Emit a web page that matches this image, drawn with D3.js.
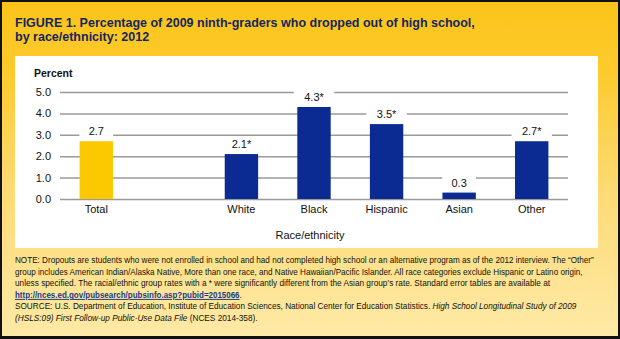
<!DOCTYPE html>
<html><head><meta charset="utf-8">
<script src="https://cdn.jsdelivr.net/npm/d3@7"></script>
<style>html,body{margin:0;padding:0;background:#fff;}svg{display:block;}</style>
</head><body>
<svg id="c" width="620" height="339"></svg>
<script>
const categories = ["Total", "White", "Black", "Hispanic", "Asian", "Other"];
const values = [2.7, 2.1, 4.3, 3.5, 0.3, 2.7];
const valueLabels = ["2.7", "2.1*", "4.3*", "3.5*", "0.3", "2.7*"];
const tickValues = [0, 1, 2, 3, 4, 5];
const titleLines = ["FIGURE 1. Percentage of 2009 ninth-graders who dropped out of high school,", "by race/ethnicity: 2012"];
const yAxisTitle = "Percent";
const xAxisTitle = "Race/ethnicity";

const svg = d3.select("#c");
const defs = svg.append("defs");
const g1 = defs.append("linearGradient").attr("id","bg").attr("x1",0).attr("y1",0).attr("x2",0).attr("y2",1);
g1.append("stop").attr("offset","0%").attr("stop-color","#fcc41a");
g1.append("stop").attr("offset","20%").attr("stop-color","#fcca2c");
g1.append("stop").attr("offset","55%").attr("stop-color","#fdda72");
g1.append("stop").attr("offset","100%").attr("stop-color","#fee9a6");

svg.append("rect").attr("x",0).attr("y",0).attr("width",620).attr("height",339).attr("fill","#111");
svg.append("rect").attr("x",2).attr("y",2).attr("width",616).attr("height",334).attr("fill","url(#bg)");
svg.append("rect").attr("x",15).attr("y",56).attr("width",583).attr("height",192).attr("fill","#fff");

const ff = "Liberation Sans, Arial, sans-serif";
// horizontally squeeze a text so it spans `target` px, keeping its height
function squeeze(sel, x0, y0, target, size){
  sel.attr("font-size", size).attr("x",0).attr("y",0);
  const nat = sel.node().getComputedTextLength();
  const k = Math.min(1, target/nat);
  sel.attr("transform", `translate(${x0},${y0}) scale(${k},1)`);
}

// title
svg.selectAll("text.title").data(titleLines).join("text")
  .attr("class","title")
  .attr("font-family",ff)
  .attr("font-weight","bold").attr("fill","#14265e")
  .text(d=>d)
  .each(function(d,i){ squeeze(d3.select(this), 15, 27+i*13.5, i===0?475:152, 12.5); });

const x = d3.scaleBand().domain([categories[0], "__gap__", ...categories.slice(1)])
  .range([60,568]).paddingInner(0.54).paddingOuter(0.27);
const y = d3.scaleLinear().domain([0,5]).range([199,92]);

// gridlines
const grid = svg.append("g")
  .attr("transform","translate(60,0)")
  .call(d3.axisLeft(y).tickValues(tickValues).tickSize(-(568-60)).tickFormat(d3.format(".1f")).tickPadding(9));
grid.select(".domain").remove();
grid.selectAll(".tick line").attr("stroke","#9a9a9a").attr("stroke-width",1.5);
grid.selectAll(".tick text").attr("font-family",ff).attr("font-size",11).attr("fill","#111");

svg.append("text").attr("x",34).attr("y",77).attr("font-family",ff)
  .attr("font-weight","bold").attr("font-size",10.5).attr("fill","#111").text(yAxisTitle);

const data = categories.map((c,i)=>({c, v:values[i], l:valueLabels[i]}));

svg.selectAll("rect.bar").data(data).join("rect").attr("class","bar")
  .attr("x",d=>x(d.c)).attr("width",x.bandwidth())
  .attr("y",d=>y(d.v)).attr("height",d=>y(0)-y(d.v))
  .attr("fill",(d,i)=>i===0?"#fcc800":"#0b2a92");

// value labels with white backgrounds
const lab = svg.selectAll("g.lab").data(data).join("g").attr("class","lab")
  .attr("transform",d=>`translate(${x(d.c)+x.bandwidth()/2},${y(d.v)-6})`);
lab.append("rect").attr("x",d=>-(d.l.length*3.3+7)).attr("y",-11).attr("width",d=>d.l.length*6.6+14).attr("height",14).attr("fill","#fff");
lab.append("text").attr("text-anchor","middle").attr("font-family",ff)
  .attr("font-size",11).attr("fill","#111").text(d=>d.l);

// category labels
svg.selectAll("text.cat").data(data).join("text").attr("class","cat")
  .attr("x",d=>x(d.c)+x.bandwidth()/2).attr("y",213).attr("text-anchor","middle")
  .attr("font-family",ff).attr("font-size",11).attr("fill","#111").text(d=>d.c);

svg.append("text").attr("x",310).attr("y",239).attr("text-anchor","middle")
  .attr("font-family",ff).attr("font-size",11).attr("fill","#111").text(xAxisTitle);

// notes
const noteLines = [
  {t:"NOTE: Dropouts are students who were not enrolled in school and had not completed high school or an alternative program as of the 2012 interview. The \u201cOther\u201d", w:579},
  {t:"group includes American Indian/Alaska Native, More than one race, and Native Hawaiian/Pacific Islander. All race categories exclude Hispanic or Latino origin,", w:568},
  {t:"unless specified. The racial/ethnic group rates with a * were significantly different from the Asian group\u2019s rate. Standard error tables are available at", w:536}
];
const ns = 9.8;
const ny0 = 263, nd = 11.6;
noteLines.forEach((n,i)=>{
  const t = svg.append("text").attr("font-family",ff).attr("fill","#111").text(n.t);
  squeeze(t, 15, ny0+i*nd, n.w, ns);
});
const link = svg.append("text").attr("font-family",ff);
link.append("tspan").attr("fill","#1a3a8c").attr("font-weight","bold").attr("text-decoration","underline").text("http://nces.ed.gov/pubsearch/pubsinfo.asp?pubid=2015066");
link.append("tspan").attr("fill","#111").text(".");
squeeze(link, 15, ny0+3*nd, 227, ns);

const s1 = svg.append("text").attr("font-family",ff).attr("fill","#111");
s1.append("tspan").text("SOURCE: U.S. Department of Education, Institute of Education Sciences, National Center for Education Statistics. ");
s1.append("tspan").attr("font-style","italic").text("High School Longitudinal Study of 2009");
squeeze(s1, 15, ny0+4*nd, 562, ns);
const s2 = svg.append("text").attr("font-family",ff).attr("fill","#111");
s2.append("tspan").attr("font-style","italic").text("(HSLS:09) First Follow-up Public-Use Data File");
s2.append("tspan").text(" (NCES 2014-358).");
squeeze(s2, 15, ny0+5*nd, 243, ns);
</script>
</body></html>
